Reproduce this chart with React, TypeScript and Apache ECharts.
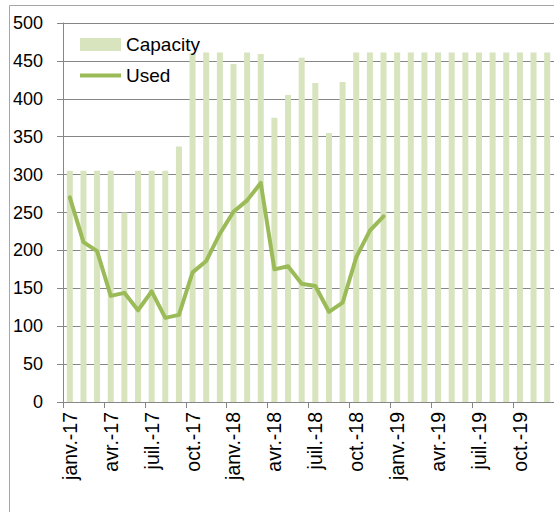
import React, { useEffect, useRef } from "react";
import * as echarts from "echarts";

const monthNames = ["janv.", "févr.", "mars", "avr.", "mai", "juin", "juil.", "août", "sept.", "oct.", "nov.", "déc."];
const years = ["17", "18", "19"];
const categories: string[] = [];
years.forEach((y) => monthNames.forEach((m) => categories.push(`${m}-${y}`)));

const capacity = [
  305, 305, 305, 305, 250, 305, 305, 305, 337, 460, 461, 461,
  446, 461, 459, 375, 405, 454, 421, 355, 422, 461, 461, 461,
  461, 461, 461, 461, 461, 461, 461, 461, 461, 461, 461, 461,
];
const used = [
  270, 211, 199, 140, 144, 121, 146, 111, 115, 171, 186, 222,
  251, 266, 289, 175, 179, 156, 153, 119, 131, 191, 226, 245,
];

const yTicks = { min: 0, max: 500, interval: 50 };

export default function App() {
  const ref = useRef<HTMLDivElement>(null);
  useEffect(() => {
    if (!ref.current) return;
    const chart = echarts.init(ref.current, undefined, { renderer: "svg" });
    const font = "Liberation Sans, Arial, sans-serif";
    chart.setOption({
      animation: false,
      backgroundColor: "#ffffff",
      textStyle: { fontFamily: font },
      graphic: [
        {
          type: "rect",
          shape: { x: 9.5, y: 5.5, width: 700, height: 700 },
          style: { fill: "none", stroke: "#a6a6a6", lineWidth: 1 },
          z: -1,
          silent: true,
        },
      ],
      legend: {
        orient: "vertical",
        left: 80,
        top: 35,
        padding: 0,
        itemWidth: 41,
        itemHeight: 13,
        itemGap: 12,
        textStyle: { fontSize: 19, color: "#000", fontFamily: font },
        data: [
          { name: "Capacity", icon: "rect" },
          { name: "Used", icon: "path://M0,0h40v4h-40z" },
        ],
      },
      grid: { left: 63, right: -6, top: 23, bottom: 110, containLabel: false },
      xAxis: {
        type: "category",
        data: categories,
        boundaryGap: true,
        axisLine: { lineStyle: { color: "#868686", width: 1 } },
        axisTick: { show: true, interval: 2, length: 6, lineStyle: { color: "#868686" } },
        axisLabel: {
          interval: 2,
          rotate: 90,
          margin: 10,
          fontSize: 19.5,
          color: "#000",
          fontFamily: font,
        },
        splitLine: { show: false },
      },
      yAxis: {
        type: "value",
        min: yTicks.min,
        max: yTicks.max,
        interval: yTicks.interval,
        axisLine: { show: true, lineStyle: { color: "#868686", width: 1 } },
        axisTick: { show: true, length: 6, lineStyle: { color: "#868686" } },
        axisLabel: { fontSize: 18, color: "#000", margin: 20, fontFamily: font },
        splitLine: { show: true, lineStyle: { color: "#868686", width: 1 } },
      },
      series: [
        {
          name: "Capacity",
          type: "bar",
          data: capacity,
          barWidth: 6,
          itemStyle: { color: "#d7e4bd" },
        },
        {
          name: "Used",
          type: "line",
          data: used,
          symbol: "none",
          showSymbol: false,
          lineStyle: { color: "#9bbb59", width: 4, cap: "round", join: "round" },
          itemStyle: { color: "#9bbb59" },
        },
      ],
    });
    return () => chart.dispose();
  }, []);
  return (
    <div
      ref={ref}
      style={{ position: "absolute", left: 0, top: 0, width: 554, height: 512 }}
    />
  );
}
